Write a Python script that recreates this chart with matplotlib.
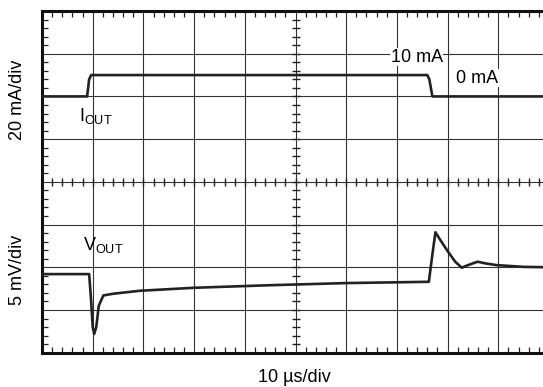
import numpy as np
import matplotlib
matplotlib.use("Agg")
import matplotlib.pyplot as plt

plt.rcParams['font.family'] = ['Liberation Sans', 'DejaVu Sans']
plt.rcParams['mathtext.fontset'] = 'custom'
plt.rcParams['mathtext.rm'] = 'Liberation Sans'

# scope settings
us_per_div = 10.0
ma_per_div = 20.0
mv_per_div = 5.0
i_zero_div = 6.0     # I_OUT trace zero level (divisions from bottom)
v_zero_div = 1.84    # V_OUT trace reference level

# I_OUT trace (time in us, current in mA)
t_i = [0, 8.9, 9.3, 9.7, 76.0, 76.4, 77.0, 100]
i_out = [0, 0, 8, 10, 10, 8, 0, 0]

# V_OUT trace (time in us, deviation in mV)
t_v = [0, 9.3, 9.7, 10.0, 10.3, 10.7, 11.2, 12.1, 14.0, 19.3, 30.0, 45.0,
       60.0, 76.3, 77.0, 77.6, 78.5, 80.0, 81.5, 82.8, 84.0, 85.9, 87.5,
       89.7, 95.0, 100]
v_out = [0, 0, -3.2, -6.2, -7.0, -6.2, -3.7, -2.5, -2.3, -1.95, -1.6, -1.3,
         -1.05, -0.9, 2.3, 4.9, 4.05, 2.7, 1.45, 0.75, 1.05, 1.45, 1.25,
         1.05, 0.85, 0.8]

fig = plt.figure(figsize=(5.43, 3.87), dpi=100)
ax = fig.add_axes([42 / 543, 34.3 / 387, 507 / 543, 341.7 / 387])
ax.set_xlim(0, 10)
ax.set_ylim(0, 8)

# grid
ax.set_xticks(range(11))
ax.set_yticks(range(9))
ax.set_xticks(np.arange(0, 10.01, 0.2), minor=True)
ax.set_yticks(np.arange(0, 8.01, 0.2), minor=True)
ax.grid(True, which='major', color='#333333', lw=0.8)
ax.tick_params(which='major', length=0, labelbottom=False, labelleft=False)
ax.tick_params(which='minor', direction='in', length=4, width=0.9,
               top=True, right=True, color='#222222')
for s in ['left', 'bottom', 'top', 'right']:
    ax.spines[s].set_linewidth(2.2)
    ax.spines[s].set_color('#111111')

# centre line ticks
xm = np.arange(0, 10.01, 0.2)
ym = np.arange(0, 8.01, 0.2)
ax.plot(xm, np.full_like(xm, 4), ls='none', marker='|', ms=6, mew=1.0,
        color='#222222', clip_on=False)
ax.plot(np.full_like(ym, 5), ym, ls='none', marker='_', ms=6, mew=1.0,
        color='#222222', clip_on=False)

# traces
ti = np.array(t_i) / us_per_div
yi = i_zero_div + np.array(i_out) / ma_per_div
tv = np.array(t_v) / us_per_div
yv = v_zero_div + np.array(v_out) / mv_per_div
ax.plot(ti, yi, color='#222222', lw=1.9, solid_joinstyle='round', zorder=5)
ax.plot(tv, yv, color='#222222', lw=1.9, solid_joinstyle='round', zorder=5)

fs = 13
ax.text(0.73, 5.55, r'$\mathrm{I}_{\mathrm{OUT}}$', fontsize=fs, ha='left', va='center')
ax.text(0.81, 2.52, r'$\mathrm{V}_{\mathrm{OUT}}$', fontsize=fs, ha='left', va='center')
ax.text(7.39, 6.92, '10 mA', fontsize=fs, ha='center', va='center', zorder=6,
        bbox=dict(facecolor='white', edgecolor='none', pad=0.5))
ax.text(8.58, 6.43, '0 mA', fontsize=fs, ha='center', va='center', zorder=6,
        bbox=dict(facecolor='white', edgecolor='none', pad=0.5))

fig.text(17 / 543, 1 - 100 / 387, '20 mA/div', rotation=90, fontsize=fs,
         ha='center', va='center')
fig.text(17 / 543, 1 - 270 / 387, '5 mV/div', rotation=90, fontsize=fs,
         ha='center', va='center')
fig.text(294 / 543, 1 - 378 / 387, '10 µs/div', fontsize=fs,
         ha='center', va='center')

fig.savefig('out.png', dpi=100)
